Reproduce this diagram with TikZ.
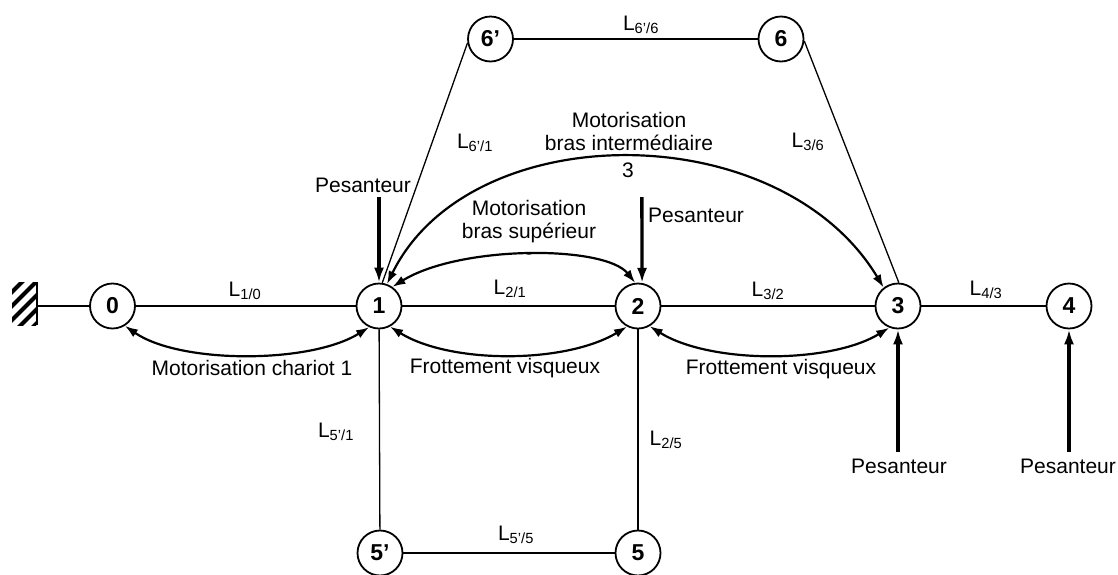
\documentclass[tikz,border=0pt]{standalone}
\usepackage{fontspec}
\setmainfont{Liberation Sans}
\usetikzlibrary{arrows.meta}
\newcommand\Lsub[1]{L\textsubscript{#1}}
\begin{document}
\begin{tikzpicture}[x=1pt,y=-1pt,
 every node/.style={font=\fontsize{21}{23}\selectfont},
 num/.style={circle,draw,line width=1.8pt,minimum size=45pt,inner sep=0pt,font=\fontsize{23}{23}\selectfont\bfseries},
 link/.style={line width=1.3pt},
 act/.style={line width=2.2pt,{Latex[length=13pt,width=9pt]}-{Latex[length=13pt,width=9pt]}},
 grav/.style={line width=3.4pt,-{Latex[length=15pt,width=10pt]}},
 lbl/.style={inner sep=0pt},
 txt/.style={inner sep=0pt,align=center},
]
\useasboundingbox (0,0) rectangle (1118,574);

% wall
\begin{scope}
\clip (12,282) rectangle (36,325);
\foreach \k in {-4,...,2} \draw[line width=4pt] (\k*14+2,330) -- (\k*14+52,280);
\end{scope}
\draw[line width=1.5pt] (37,282) -- (37,325);
\coordinate (wall) at (37,306);

% parts
\node[num] (n0) at (112.5,306) {0};
\node[num] (n1) at (379,306) {1};
\node[num] (n2) at (638,306) {2};
\node[num] (n3) at (898,306) {3};
\node[num] (n4) at (1069,306) {4};
\node[num] (n6p) at (490.5,39) {6’};
\node[num] (n6) at (781,39) {6};
\node[num] (n5p) at (380,553) {5’};
\node[num] (n5) at (638,553) {5};

% links
\draw[link] (wall) -- (n0);
\draw[link] (n0) -- (n1);
\draw[link] (n1) -- (n2);
\draw[link] (n2) -- (n3);
\draw[link] (n3) -- (n4);
\draw[link] (n6p) -- (n6);
\draw[link] (n5p) -- (n5);
\draw[link] (n1) -- (n5p);
\draw[link] (n2) -- (n5);
\draw[link] (n6p.190) -- (n1.82);
\draw[link] (n6.-5) -- (n3.88);

% link labels
\node[lbl] (l10) at (245,291) {\Lsub{1/0}};
\node[lbl] (l21) at (510,289) {\Lsub{2/1}};
\node[lbl] (l32) at (768,291) {\Lsub{3/2}};
\node[lbl] (l43) at (986,290) {\Lsub{4/3}};
\node[lbl] (l66) at (641,25) {\Lsub{6'/6}};
\node[lbl] (l61) at (475,143) {\Lsub{6'/1}};
\node[lbl] (l36) at (808,142) {\Lsub{3/6}};
\node[lbl] (l51) at (336,432) {\Lsub{5'/1}};
\node[lbl] (l25) at (666,440) {\Lsub{2/5}};
\node[lbl] (l55) at (516,535) {\Lsub{5'/5}};

% actions between parts
\draw[act] (n0.-58) .. controls (180,364) and (310,364) .. (n1.-115);
\draw[act] (n1.-62) .. controls (450,364) and (565,364) .. (n2.-118);
\draw[act] (n2.-60) .. controls (710,364) and (830,364) .. (n3.-112);
\draw[act] (n1.55) .. controls (460,245) and (605,245) .. (n2.97);
\draw[act] (n1.70) .. controls (470,115) and (780,115) .. (n3.128);

\node[txt] (tch) at (252,368) {Motorisation chariot 1};
\node[txt] (tf1) at (505,368) {Frottement visqueux};
\node[txt] (tf2) at (781,369) {Frottement visqueux};
\node[txt] (tsup) at (529,222) {Motorisation\\bras supérieur};
\begin{scope}
\clip (500,240) rectangle (560,254.5);
\node[txt] (tsup2) at (529,262) {2};
\end{scope}
\node[txt] (tint) at (629,131) {Motorisation\\bras intermédiaire};
\node[txt] (tint3) at (628,170) {3};

% gravity
\coordinate (g1) at (379,197);
\coordinate (g2s) at (641.9,197);
\coordinate (g3) at (898,452);
\coordinate (g4) at (1069,452);
\draw[grav] (g1) -- (n1.north);
\draw[grav] (g2s) -- (n2.80);
\draw[grav] (g3) -- (n3.south);
\draw[grav] (g4) -- (n4.south);
\node[txt] (tp1) at (363,185) {Pesanteur};
\node[txt,anchor=west] (tp2) at (648,215) {Pesanteur};
\node[txt] (tp3) at (899,466) {Pesanteur};
\node[txt] (tp4) at (1068,466) {Pesanteur};
\end{tikzpicture}
\end{document}
